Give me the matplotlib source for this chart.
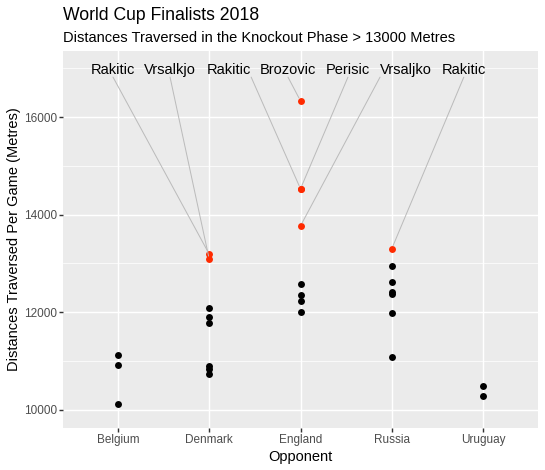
import matplotlib
matplotlib.use("Agg")
import matplotlib.pyplot as plt
from matplotlib.ticker import MultipleLocator

plt.rcParams['font.family'] = ['Liberation Sans', 'DejaVu Sans']

# ---- data ----
opponents = ['Belgium', 'Denmark', 'England', 'Russia', 'Uruguay']

# players below 13000 m (black points)
other_opponent = ['Belgium', 'Belgium', 'Belgium',
                  'Denmark', 'Denmark', 'Denmark', 'Denmark', 'Denmark', 'Denmark',
                  'England', 'England', 'England', 'England',
                  'Russia', 'Russia', 'Russia', 'Russia', 'Russia', 'Russia',
                  'Uruguay', 'Uruguay']
other_distance = [11130, 10930, 10120,
                  12095, 11900, 11780, 10900, 10840, 10740,
                  12575, 12350, 12225, 12005,
                  12950, 12615, 12420, 12385, 11985, 11080,
                  10490, 10285]

# players above 13000 m (red, labelled)
top_player = ['Rakitic', 'Vrsalkjo', 'Rakitic', 'Brozovic', 'Perisic', 'Vrsaljko', 'Rakitic']
top_opponent = ['Denmark', 'Denmark', 'England', 'England', 'England', 'England', 'Russia']
top_distance = [13190, 13085, 14530, 16330, 14530, 13770, 13300]

# ---- layout (repelled label placement) ----
label_x = [-0.055, 0.57, 1.216, 1.863, 2.52, 3.156, 3.79]
label_y = 16960
label_relpos = [(0.5, 0), (0.5, 0), (1, 0), (0.5, 0), (0.5, 0), (0, 0), (0.5, 0)]

W, H, DPI = 545, 470, 96
fig = plt.figure(figsize=(W / DPI, H / DPI), dpi=DPI)
fig.patch.set_facecolor('white')
ax = fig.add_axes([63.3 / W, 1 - 427.7 / H, (537.7 - 63.3) / W, (427.7 - 51) / H])
ax.set_facecolor('#EBEBEB')

idx = {o: i for i, o in enumerate(opponents)}
ax.scatter([idx[o] for o in other_opponent], other_distance, s=27, color='black',
           linewidths=0, zorder=3)
ax.scatter([idx[o] for o in top_opponent], top_distance, s=27, color='#FF2A00',
           linewidths=0, zorder=3)

for name, opp, dist, lx, rp in zip(top_player, top_opponent, top_distance, label_x, label_relpos):
    ax.annotate(name, xy=(idx[opp], dist), xytext=(lx, label_y), textcoords='data',
                ha='center', va='center', fontsize=11, color='black', zorder=4,
                arrowprops=dict(arrowstyle='-', color='#BBBBBB', lw=0.75,
                                relpos=rp, patchA=None, shrinkA=0, shrinkB=2.5))

ax.set_xlim(-0.6, 4.6)
ax.set_ylim(9637, 17352)
ax.set_xticks(range(len(opponents)))
ax.set_xticklabels(opponents)
ax.yaxis.set_major_locator(MultipleLocator(2000))
ax.yaxis.set_minor_locator(MultipleLocator(1000))

ax.grid(which='major', color='white', lw=1.07)
ax.grid(which='minor', axis='y', color='white', lw=0.53)
ax.set_axisbelow(True)
for s in ax.spines.values():
    s.set_visible(False)
ax.tick_params(which='major', length=2.75, width=1.07, color='#333333',
               labelsize=8.8, labelcolor='#4D4D4D', pad=2.2)
ax.tick_params(which='minor', length=0)

ax.set_xlabel('Opponent', fontsize=11, color='black', labelpad=2.75)
ax.set_ylabel('Distances Traversed Per Game (Metres)', fontsize=11, color='black', labelpad=2)

fig.text(63.3 / W, 1 - 19.5 / H, 'World Cup Finalists 2018', fontsize=13.2,
         ha='left', va='baseline', color='black')
fig.text(63.3 / W, 1 - 41.5 / H,
         'Distances Traversed in the Knockout Phase > 13000 Metres', fontsize=11,
         ha='left', va='baseline', color='black')

fig.savefig('out.png', dpi=DPI)
